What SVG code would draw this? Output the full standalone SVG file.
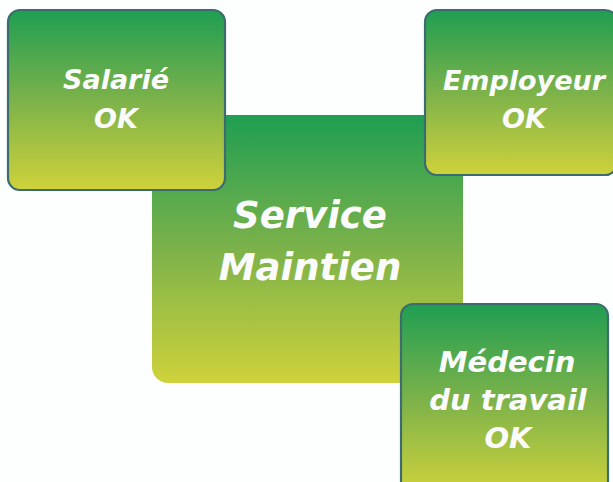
<svg xmlns="http://www.w3.org/2000/svg" width="613" height="482" viewBox="0 0 613 482">
<defs>
<linearGradient id="g" x1="0" y1="0" x2="0" y2="1">
<stop offset="0" stop-color="#1f9e52"/>
<stop offset="0.5" stop-color="#7cb24a"/>
<stop offset="1" stop-color="#cfd23b"/>
</linearGradient>
<style>
.box{fill:url(#g);stroke:#3c6b70;stroke-width:2.2}
.main{fill:url(#g)}
.t{font-family:"DejaVu Sans","Open Sans",sans-serif;font-weight:bold;font-style:italic;fill:#fbfbfb;text-anchor:middle}
.s{font-size:27px}
.m{font-size:29px}
.l{font-size:37px}
</style>
</defs>
<rect width="613" height="482" fill="#fdfefe"/>
<g id="service-maintien">
<rect class="main" x="152" y="115" width="311" height="268" rx="16"/>
<text class="t l" x="310" y="228">Service</text>
<text class="t l" x="310" y="280">Maintien</text>
</g>
<g id="salarie">
<rect class="box" x="8" y="10" width="217" height="180" rx="12"/>
<text class="t s" x="116" y="89">Salarié</text>
<text class="t s" x="116" y="128">OK</text>
</g>
<g id="employeur">
<rect class="box" x="425" y="10" width="192" height="165" rx="12"/>
<text class="t s" x="524" y="90">Employeur</text>
<text class="t s" x="524" y="128">OK</text>
</g>
<g id="medecin">
<rect class="box" x="401" y="304" width="207" height="190" rx="12"/>
<text class="t m" x="507" y="372">Médecin</text>
<text class="t m" x="508" y="410">du travail</text>
<text class="t m" x="508" y="448">OK</text>
</g>
<g id="connectors"></g>
</svg>
